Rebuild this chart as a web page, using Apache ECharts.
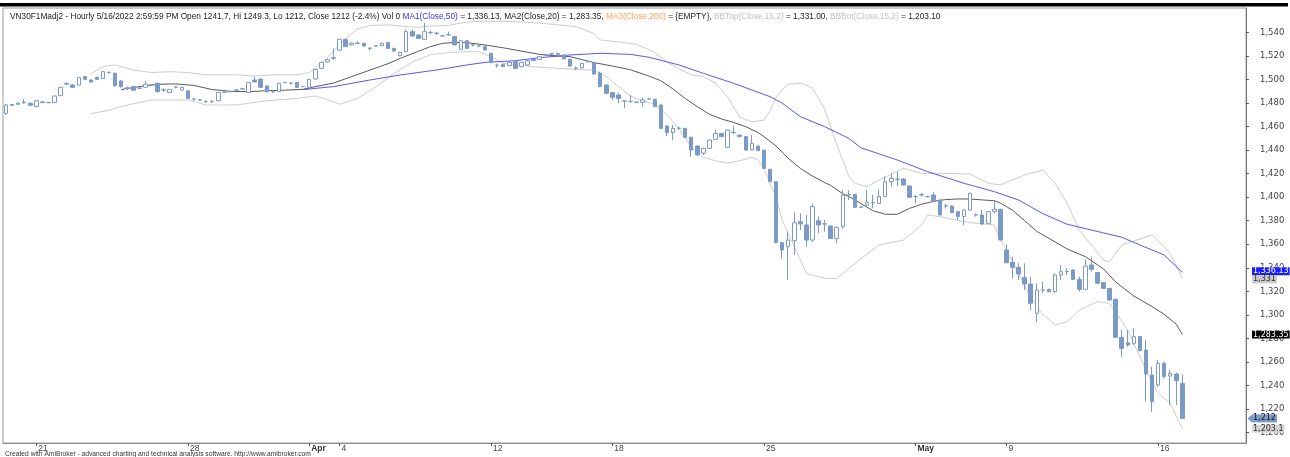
<!DOCTYPE html>
<html>
<head>
<meta charset="utf-8">
<title>VN30F1Madj2 - Hourly</title>
<script src="https://cdn.jsdelivr.net/npm/echarts@6/dist/echarts.min.js"></script>
<style>
  html, body { margin: 0; padding: 0; background: #fff; }
  #chart { width: 1290px; height: 457px; }
</style>
</head>
<body>
<div id="chart"></div>
<script>
// trading days on the chart, 5 hourly bars per day
var tradeDays = ['03-18',
  '03-21', '03-22', '03-23', '03-24', '03-25',
  '03-28', '03-29', '03-30', '03-31', '04-01',
  '04-04', '04-05', '04-06', '04-07', '04-08',
  '04-12', '04-13', '04-14', '04-15',
  '04-18', '04-19', '04-20', '04-21', '04-22',
  '04-25', '04-26', '04-27', '04-28', '04-29',
  '05-04', '05-05', '05-06',
  '05-09', '05-10', '05-11', '05-12', '05-13',
  '05-16'];
var sessionHours = ['09', '10', '11', '13', '14'];
var dayTickLabels = {
  '03-21': '21', '03-28': '28', '04-01': 'Apr', '04-04': '4', '04-12': '12',
  '04-18': '18', '04-25': '25', '05-04': 'May', '05-09': '9', '05-16': '16'
};
var priceTicks = [1200, 1220, 1240, 1260, 1280, 1300, 1320, 1340, 1360, 1380,
  1400, 1420, 1440, 1460, 1480, 1500, 1520, 1540];

// candles: [open, close, low, high]
var barsMar18 = [
  [1471.3, 1478.4, 1470, 1479.5], [1478, 1478.8, 1477.5, 1479.5], [1479, 1480, 1478.5, 1481],
  [1480.2, 1480.8, 1479.5, 1483.5], [1479.8, 1478.1, 1477.5, 1480.5]
];
var barsMar21 = [
  [1477, 1482, 1476.5, 1482.5], [1481, 1480.4, 1480, 1481.5], [1480.4, 1480.6, 1479.8, 1481],
  [1480.4, 1486, 1480, 1486.5], [1486.3, 1493.4, 1486, 1494], [1496, 1496.8, 1495.5, 1497.5],
  [1495.4, 1493.4, 1493, 1496], [1495.4, 1501.6, 1495, 1502], [1502.5, 1500.2, 1499.5, 1503],
  [1499.6, 1497.9, 1497.5, 1500.5], [1501.9, 1500.2, 1499.5, 1502.5], [1501, 1506.7, 1500.5, 1507.5],
  [1505.9, 1506.2, 1505, 1506.7], [1505.3, 1494.8, 1494, 1506], [1498.8, 1494, 1493, 1499.5],
  [1493, 1492.5, 1491, 1494], [1494, 1491, 1490.5, 1494.5], [1492.5, 1492.8, 1492, 1493.5],
  [1493.4, 1496, 1493, 1498.8], [1495.4, 1495.6, 1495, 1496], [1496.8, 1489.7, 1489, 1497.5],
  [1491.1, 1491.3, 1489.5, 1492.5], [1489.1, 1491.7, 1488.8, 1492], [1493.4, 1493.6, 1492.5, 1494.5],
  [1491.1, 1493.4, 1490.8, 1493.8]
];
var barsMar28 = [
  [1490.5, 1484, 1483.5, 1491], [1483.2, 1483.4, 1482, 1484.5], [1482.6, 1482.8, 1482, 1483.5],
  [1481.2, 1481.4, 1480, 1482.5], [1481.2, 1481.4, 1480, 1482.5], [1482, 1489.1, 1481.5, 1489.5],
  [1489.1, 1489.3, 1488.5, 1489.8], [1489.7, 1489.9, 1489, 1490.5], [1491, 1491.2, 1490, 1492],
  [1492, 1492.2, 1491.5, 1492.5], [1489, 1497.6, 1488.5, 1498], [1499.6, 1498, 1497.5, 1502.5],
  [1500.4, 1493.4, 1493, 1501], [1494.5, 1489.7, 1489, 1495], [1489.7, 1489.9, 1488.5, 1491],
  [1489.7, 1496.8, 1489.5, 1497.2], [1497.4, 1497.6, 1497, 1498], [1496.8, 1497, 1496, 1497.8],
  [1497.6, 1493.4, 1493, 1498], [1494, 1494.2, 1493.5, 1494.6], [1493.4, 1500.2, 1493, 1500.6],
  [1500.5, 1508.7, 1500, 1509.2], [1509.5, 1514.6, 1509, 1515.2], [1515, 1517, 1514.5, 1517.8],
  [1518, 1518.6, 1516.5, 1526.5]
];
var barsApr4 = [
  [1525, 1534.2, 1524.5, 1534.8], [1534.2, 1528, 1527.5, 1535], [1529.5, 1531, 1529, 1531.5],
  [1530.8, 1531, 1530, 1532.5], [1530.8, 1528.5, 1528, 1531.3], [1526.5, 1526.7, 1524.5, 1527.5],
  [1528.5, 1528.7, 1528, 1529.2], [1528.8, 1530.8, 1528.5, 1531.3], [1531.6, 1526.5, 1526, 1532],
  [1526.5, 1524.3, 1523.8, 1527], [1520.3, 1523.1, 1519.8, 1523.6], [1523.7, 1540.7, 1523.2, 1542.7],
  [1540.7, 1537, 1536.5, 1542.7], [1537.9, 1535, 1534.5, 1538.4], [1534.2, 1540.7, 1533.7, 1548.4],
  [1539.9, 1540.1, 1538.5, 1541.5], [1539.3, 1539.5, 1538, 1540.7], [1537, 1537.2, 1536.5, 1537.8],
  [1537.9, 1538.1, 1537.2, 1540.7], [1536.5, 1529.4, 1529, 1537], [1525.7, 1533, 1525.2, 1533.5],
  [1533, 1526.5, 1526, 1533.5], [1529.4, 1529.6, 1528, 1530.5], [1528.5, 1528.7, 1527.5, 1529.5],
  [1528, 1525.1, 1524.6, 1528.5]
];
var barsApr12 = [
  [1522.3, 1514.4, 1514, 1522.8], [1512, 1512.2, 1510, 1513.5], [1512.9, 1511, 1510.5, 1513.4],
  [1511.8, 1514.6, 1511.3, 1515.1], [1515.2, 1509.5, 1509, 1515.7], [1511, 1514.6, 1510.5, 1515],
  [1512.4, 1516, 1512, 1516.5], [1516.2, 1517, 1515.8, 1517.5], [1517.2, 1519.5, 1516.8, 1520],
  [1520.9, 1521.1, 1520.3, 1521.5], [1521.7, 1521.9, 1521, 1522.3], [1521, 1522.3, 1520.5, 1522.8],
  [1520.9, 1517.5, 1517, 1521.4], [1517.2, 1511.5, 1511, 1517.7], [1509.5, 1509.7, 1508, 1511],
  [1510, 1513.8, 1509.5, 1514.3], [1515.2, 1515.4, 1514.5, 1515.8], [1514.4, 1504.7, 1504.2, 1514.9],
  [1505.5, 1494, 1493.5, 1506.7], [1495.4, 1488.3, 1487.8, 1496]
];
var barsApr18 = [
  [1488.9, 1484.9, 1482.5, 1489.5], [1486.9, 1484, 1480, 1488.9], [1481.7, 1481.9, 1475.5, 1482.5],
  [1481.2, 1481.4, 1480.5, 1486.8], [1480.6, 1480.8, 1480, 1481.2], [1480.6, 1482.6, 1477, 1485],
  [1483.5, 1483.7, 1483, 1484], [1483.2, 1477, 1476.5, 1483.7], [1478.4, 1458.5, 1458, 1478.9],
  [1460.5, 1454.8, 1452, 1461], [1454.8, 1458.5, 1448.6, 1461.4], [1458.5, 1458.7, 1457.5, 1460],
  [1458.5, 1450.9, 1450.4, 1459], [1450.9, 1440.1, 1434.5, 1451.4], [1443.5, 1435.9, 1435.4, 1444],
  [1437.5, 1441.5, 1435.9, 1442], [1441.5, 1448.6, 1441, 1449.1], [1449.2, 1454.2, 1448.7, 1457.1],
  [1454.2, 1451.5, 1451, 1454.7], [1442.4, 1457.1, 1441.9, 1457.6], [1455, 1455.2, 1453.4, 1460.5],
  [1452.8, 1451.5, 1451, 1453.3], [1451.5, 1440.1, 1439.6, 1452], [1440.1, 1445.8, 1439.6, 1452.8],
  [1443.5, 1439.6, 1439.1, 1444]
];
var barsApr25 = [
  [1440, 1424.5, 1424, 1440.5], [1423.7, 1413.2, 1412.7, 1424.2], [1413.2, 1361.4, 1360.9, 1413.7],
  [1361.4, 1355.1, 1348, 1361.9], [1357.9, 1363.6, 1329.6, 1370.7], [1363, 1378.3, 1350.9, 1387.1],
  [1379.2, 1377.2, 1372, 1386.3], [1376.4, 1363.6, 1358, 1384.9], [1363.6, 1392, 1362, 1394.8],
  [1380, 1376.4, 1369.3, 1383.5], [1377.2, 1377.4, 1370.7, 1380.6], [1375.5, 1365, 1364.5, 1376],
  [1365, 1374.4, 1360.8, 1375], [1375, 1401.9, 1373.5, 1406], [1401.9, 1402.1, 1397.6, 1406],
  [1402.4, 1391.4, 1390.9, 1402.9], [1391.4, 1391.6, 1390.6, 1392.2], [1393.4, 1395.7, 1392, 1406],
  [1395.6, 1395.2, 1390.5, 1401.9], [1394.8, 1400.5, 1394.3, 1406.7], [1400.5, 1413.2, 1400, 1417.5],
  [1413.2, 1416, 1409, 1420.3], [1415.2, 1415.4, 1409.5, 1421.7], [1415.5, 1410.4, 1409.9, 1416],
  [1409.5, 1399.9, 1399.4, 1410]
];
var barsMay4 = [
  [1400.5, 1400.7, 1394.8, 1402], [1401.9, 1402.1, 1400.5, 1403.3], [1400.5, 1400.7, 1399.8, 1401.2],
  [1401.9, 1396.2, 1395.7, 1404.7], [1397.6, 1384.9, 1384.4, 1398.1], [1392.5, 1392.7, 1390.5, 1394.5],
  [1392.5, 1386.9, 1386.4, 1393], [1387.7, 1383.5, 1380.6, 1388.2], [1383.5, 1389.1, 1376.4, 1389.6],
  [1389.1, 1403.3, 1388.6, 1403.8], [1384.9, 1385.1, 1383.5, 1386.3], [1384.9, 1377.2, 1376.4, 1389.1],
  [1377.8, 1387.7, 1377.3, 1388.2], [1387.7, 1389.7, 1386.3, 1397.6], [1389.7, 1363.6, 1363.1, 1390.2]
];
var barsMay9 = [
  [1355.1, 1344.3, 1343.8, 1360], [1344.6, 1340.4, 1331, 1349.5], [1340.4, 1334.7, 1329.6, 1343.8],
  [1331.6, 1326.2, 1321.1, 1343.8], [1326.2, 1309.8, 1304.1, 1332.5], [1301.3, 1321.1, 1294.2, 1326.8],
  [1321.1, 1321.3, 1318.3, 1328.2], [1321.7, 1319.7, 1319.2, 1322.2], [1319.7, 1333.9, 1318.3, 1335.3],
  [1333.9, 1336.7, 1329.6, 1342.4], [1336.7, 1336.9, 1333.9, 1339.5], [1338.1, 1330.2, 1329.7, 1338.6],
  [1330.2, 1321.7, 1319.7, 1332.5], [1321.7, 1341.5, 1321.2, 1347.2], [1342.4, 1338.7, 1336.7, 1349.5],
  [1335.9, 1326.8, 1326.3, 1336.4], [1327.4, 1322.5, 1322, 1327.9], [1322.5, 1312.6, 1312.1, 1323],
  [1313.2, 1280.9, 1280.4, 1313.7], [1280.9, 1271.5, 1264.4, 1287.1], [1276.3, 1274.4, 1272.9, 1287.1],
  [1275.8, 1281.5, 1274.4, 1288.5], [1281.5, 1269.6, 1269.1, 1282], [1270.1, 1249.7, 1226.2, 1278.6],
  [1248.9, 1226.2, 1217.7, 1255.9]
];
var barsMay16 = [
  [1240.4, 1258.8, 1238.9, 1261.6], [1258.8, 1247.5, 1246, 1260.2], [1248, 1250.3, 1223.4, 1253.1],
  [1249.7, 1244, 1223.4, 1250.8], [1241.7, 1212, 1212, 1249.3]
];

// indicator lines: [bar index, value]
var ma50Line = [
  [49, 1491.5], [54, 1494], [60, 1499.6], [65, 1503.9], [71, 1508.1], [76, 1512.4], [79, 1514.6],
  [84, 1516], [88, 1518.6], [93, 1520.9], [98, 1522.3], [103, 1521.4], [106, 1519], [111, 1512.4],
  [115, 1505.3], [120, 1496.8], [126, 1485.5], [128, 1480], [131, 1468.5], [135, 1460], [139, 1450],
  [141, 1442], [147, 1431.6], [152, 1421.7], [158, 1411.8], [163, 1404.7], [167, 1397.6],
  [171, 1386], [175, 1377], [179, 1372.1], [184, 1366], [187, 1359.4], [191, 1350.9], [194, 1336.13]
];
var ma20Line = [
  [19, 1491.5], [22, 1494], [25, 1496], [28, 1496.3], [31, 1495], [34, 1491.5], [37, 1490],
  [40, 1489.7], [43, 1490.5], [46, 1491], [49, 1491.7], [51, 1494], [54, 1497], [57, 1502.5],
  [60, 1508], [63, 1513.5], [65, 1518], [68, 1524], [70, 1528], [72, 1530.8], [74, 1531.5],
  [76, 1531.4], [79, 1529.4], [82, 1527], [84, 1525.1], [88, 1521.4], [91, 1520], [93, 1519.5],
  [97, 1514.4], [100, 1511.5], [103, 1508.3], [106, 1503], [108, 1499], [110, 1492], [112, 1484],
  [114, 1477], [116, 1470.5], [118, 1466.5], [120, 1463.5], [122, 1460], [124, 1455], [125, 1451.5],
  [127, 1443.5], [129, 1433], [131, 1424.5], [133, 1418], [135, 1412.5], [136, 1410], [138, 1403],
  [140, 1398], [141, 1394.5], [143, 1388.5], [145, 1385.5], [147, 1385.5], [149, 1390.5],
  [151, 1394], [153, 1396.5], [155, 1398], [157, 1398.5], [159, 1398.5], [161, 1397.7],
  [163, 1397], [164, 1395], [166, 1389], [168, 1380], [170, 1371], [172, 1365], [175, 1356],
  [178, 1349.5], [181, 1339], [183, 1328], [186, 1316], [189, 1307], [191, 1300.5], [193, 1292],
  [194, 1283.35]
];
var bbTopLine = [
  [14, 1505], [16, 1511], [18, 1512.4], [21, 1508], [24, 1506], [27, 1506.7], [30, 1506], [33, 1504],
  [38, 1504], [41, 1503], [44, 1504], [48, 1504], [50, 1506], [52, 1514], [54, 1524], [56, 1535],
  [58, 1543], [60, 1546], [63, 1546.5], [66, 1545], [68, 1544.5], [70, 1545.5], [73, 1546],
  [76, 1549], [79, 1549.5], [82, 1549.5], [85, 1549], [88, 1548], [91, 1546.5], [94, 1545],
  [97, 1539], [98, 1533.6], [101, 1532], [104, 1530], [107, 1523], [109, 1515], [111, 1509],
  [113, 1504], [115, 1502.5], [117, 1497], [119, 1485], [121, 1468], [123, 1464], [125, 1465.6],
  [126, 1473], [127, 1485], [128, 1491], [129, 1496], [131, 1497], [133, 1493], [135, 1475],
  [137, 1445], [139, 1418], [140, 1411.8], [142, 1409], [144, 1414.6], [148, 1424.5], [151, 1420.3],
  [155, 1420.3], [159, 1419.7], [162, 1411.8], [164, 1410.4], [168, 1418.9], [171, 1423.1],
  [173, 1412], [175, 1395], [177, 1372], [181, 1346.6], [182, 1345.2], [184, 1359.4], [189, 1367.9],
  [192, 1352.3], [194, 1331]
];
var bbBotLine = [
  [14, 1471], [17, 1474], [20, 1478.4], [24, 1482.6], [30, 1482.6], [33, 1478.4], [38, 1478.4],
  [43, 1482], [48, 1484], [51, 1486], [53, 1483], [55, 1479], [58, 1484], [61, 1494], [64, 1505],
  [67, 1515], [70, 1521], [73, 1523], [76, 1523.7], [78, 1523.7], [80, 1519.5], [82, 1513.8],
  [87, 1510.9], [91, 1509.5], [94, 1508.7], [97, 1508], [99, 1502.5], [101, 1494], [103, 1486],
  [105, 1482], [107, 1479], [109, 1470], [111, 1458], [113, 1443], [115, 1434], [117, 1431],
  [119, 1429], [121, 1431], [123, 1434], [124, 1432], [125, 1425], [126, 1412], [127, 1400],
  [128, 1380.6], [130, 1358], [132, 1335.3], [135, 1331], [137, 1331], [140, 1343.8], [144, 1359.4],
  [148, 1363.6], [151, 1376.4], [152, 1384.9], [154, 1383.5], [158, 1379.2], [160, 1377.8],
  [163, 1376.4], [164, 1363.6], [165, 1355.1], [167, 1335], [169, 1315], [171, 1300], [173, 1291.4],
  [175, 1294.2], [177, 1304.1], [180, 1311.2], [182, 1309.8], [185, 1287.1], [186, 1275.8],
  [188, 1253.1], [190, 1233.3], [192, 1224.8], [194, 1203.1]
];
var lastValues = { ma50: 1336.13, bbTop: 1331.00, ma20: 1283.35, close: 1212, bbBot: 1203.10 };

var candles = [].concat(barsMar18, barsMar21, barsMar28, barsApr4, barsApr12,
  barsApr18, barsApr25, barsMay4, barsMay9, barsMay16);

var categories = [];
tradeDays.forEach(function (d) {
  sessionHours.forEach(function (h) { categories.push(d + ' ' + h); });
});
// empty slots to the right of the last bar
for (var p = 1; p <= 10; p++) categories.push('pad' + p);

function isDayStart(idx, val) {
  return val.slice(6) === '09' && dayTickLabels[val.slice(0, 5)] !== undefined;
}
function fmtPrice(v) {
  return v.toLocaleString('en-US', { maximumFractionDigits: 2 });
}

var FONT = 'Arial, "Liberation Sans", sans-serif';
var AXFONT = '"DejaVu Sans", Verdana, sans-serif';
var candleBlue = '#7b9ac6';

var chart = echarts.init(document.getElementById('chart'));
var option = {
  animation: false,
  backgroundColor: '#fff',
  title: {
    left: 5,
    top: 8,
    text: 'VN30F1Madj2 - Hourly 5/16/2022 2:59:59 PM Open 1241.7, Hi 1249.3, Lo 1212, Close 1212 (-2.4%) Vol 0 ' +
      '{b|MA1(Close,50)} = 1,336.13, MA2(Close,20) = 1,283.35, {o|MA3(Close,200)} = {EMPTY}, ' +
      '{g|BBTop(Close,15,2)} = 1,331.00, {g|BBBot(Close,15,2)} = 1,203.10',
    textStyle: {
      fontSize: 8.3, fontWeight: 'normal', color: '#222', fontFamily: FONT,
      rich: {
        b: { color: '#3535ff', fontSize: 8.3, fontFamily: FONT },
        o: { color: '#ffa35f', fontSize: 8.3, fontFamily: FONT },
        g: { color: '#c2c2c2', fontSize: 8.3, fontFamily: FONT }
      }
    }
  },
  grid: {
    left: 3, right: 44, top: 8, bottom: 14,
    show: true, borderColor: '#9c9c9c', borderWidth: 1
  },
  xAxis: {
    type: 'category',
    data: categories,
    boundaryGap: true,
    axisLine: { lineStyle: { color: '#8c8c8c' } },
    axisTick: { show: true, alignWithLabel: true, interval: isDayStart, length: 3, lineStyle: { color: '#555' } },
    axisLabel: {
      interval: isDayStart,
      margin: 1,
      align: 'left',
      padding: [0, 0, 0, 2],
      fontSize: 8.5, color: '#444', fontFamily: FONT,
      formatter: function (val) {
        var t = dayTickLabels[val.slice(0, 5)];
        return (t === 'Apr' || t === 'May') ? '{m|' + t + '}' : t;
      },
      rich: { m: { fontWeight: 'bold', fontSize: 8.5, color: '#333', fontFamily: FONT } }
    },
    splitLine: { show: false }
  },
  yAxis: {
    type: 'value',
    position: 'right',
    min: 1191.075,
    max: 1560.825,
    scale: true,
    axisLine: { show: true, lineStyle: { color: '#777' } },
    axisTick: { show: true, length: 3, customValues: priceTicks, lineStyle: { color: '#555' } },
    axisLabel: {
      customValues: priceTicks,
      margin: 14,
      fontSize: 8.5, color: '#444', fontFamily: AXFONT,
      formatter: fmtPrice
    },
    splitLine: { show: false }
  },
  series: [
    {
      type: 'line', data: bbTopLine, showSymbol: false, silent: true,
      lineStyle: { color: '#cdcdcd', width: 1 }, z: 1
    },
    {
      type: 'line', data: bbBotLine, showSymbol: false, silent: true,
      lineStyle: { color: '#cdcdcd', width: 1 }, z: 1
    },
    {
      type: 'line', data: ma50Line, showSymbol: false, silent: true,
      lineStyle: { color: '#5656ff', width: 1 }, z: 2
    },
    {
      type: 'line', data: ma20Line, showSymbol: false, silent: true,
      lineStyle: { color: '#5a5a5a', width: 1 }, z: 2
    },
    {
      type: 'candlestick',
      data: candles,
      barWidth: 4,
      silent: true,
      z: 3,
      itemStyle: {
        color: '#ffffff',
        color0: candleBlue,
        borderColor: candleBlue,
        borderColor0: candleBlue,
        borderWidth: 1
      }
    }
  ],
  graphic: [
    { type: 'rect', shape: { x: 0, y: 3, width: 1288, height: 3.5 }, style: { fill: '#000' }, z: 100 },
    {
      type: 'text', x: 5, y: 451, z: 100,
      style: {
        text: 'Created with AmiBroker - advanced charting and technical analysis software. http://www.amibroker.com',
        fontSize: 6.7, fill: '#333', fontFamily: FONT
      }
    }
  ]
};
chart.setOption(option);

// value tags on the price axis, placed through the axis scale
var tagDefs = [
  { v: lastValues.ma50, bg: '#1a1aff', fg: '#fff' },
  { v: lastValues.bbTop, bg: '#c9c9c9', fg: '#333' },
  { v: lastValues.ma20, bg: '#000', fg: '#fff' },
  { v: lastValues.close, bg: candleBlue, fg: '#1a1a1a', arrow: true },
  { v: lastValues.bbBot, bg: '#d4d4d4', fg: '#333' }
];
tagDefs.forEach(function (t) { t.y = chart.convertToPixel({ yAxisIndex: 0 }, t.v); });
tagDefs.sort(function (a, b) { return a.y - b.y; });
for (var k = 1; k < tagDefs.length; k++) {
  var gap = tagDefs[k].y - tagDefs[k - 1].y;
  if (gap < 8) {
    var shift = (8 - gap) / 2;
    tagDefs[k - 1].y -= shift;
    tagDefs[k].y += shift;
  }
}
var tagGraphics = [];
tagDefs.forEach(function (t) {
  if (t.arrow) {
    tagGraphics.push({
      type: 'polygon', z: 110,
      shape: { points: [[1247.5, t.y], [1252, t.y - 4], [1252, t.y + 4]] },
      style: { fill: t.bg }
    });
  }
  tagGraphics.push({
    type: 'text', x: 1252, y: t.y, z: 110,
    style: {
      text: fmtPrice(t.v), fontSize: 8, fontFamily: AXFONT, fill: t.fg,
      backgroundColor: t.bg, padding: [0, 1, 0, 1], lineHeight: 8,
      verticalAlign: 'middle', align: 'left'
    }
  });
});
chart.setOption({ graphic: option.graphic.concat(tagGraphics) });
</script>
</body>
</html>
